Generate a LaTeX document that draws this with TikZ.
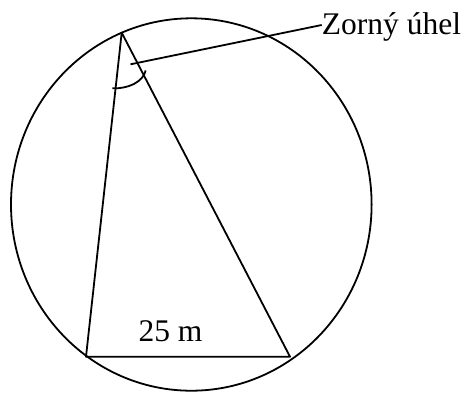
\documentclass[tikz,border=0pt]{standalone}
\usepackage{fontspec}
\setmainfont{Liberation Serif}
\usetikzlibrary{positioning,calc}
\tikzset{
	x=1pt, y=-1pt,
	line/.style = {line width=1.8pt, line join=round}, % the lines of the circle and the triangle
	lbl/.style = {inner sep=0pt, font=\fontsize{31.5}{36}\selectfont}
}

\begin{document}
\begin{tikzpicture}
            \useasboundingbox (0,0) rectangle (465,392);
            \coordinate (top) at (121.7,32.7);
            \coordinate (bl) at (86,356.7);
            \coordinate (br) at (290,356.7);
            \coordinate (mark) at (130.5,64.3);
            \node[lbl, anchor=base west] (zorny) at (321.7,34.3) {Zorný úhel};
            \node[lbl, anchor=base west] (len) at (138.3,341) {25 m};
            \draw[line] (191.3,204.5) ellipse [x radius=180.3, y radius=186.2];
            \draw[line] (top) -- (bl) -- (br) -- cycle;
            \draw[line] (112.3,88.3) .. controls (128,89) and (143,82) .. (145.7,70.5);
            \draw[line] (mark) -- (zorny.west |- 0,25);
        \end{tikzpicture}
\end{document}
